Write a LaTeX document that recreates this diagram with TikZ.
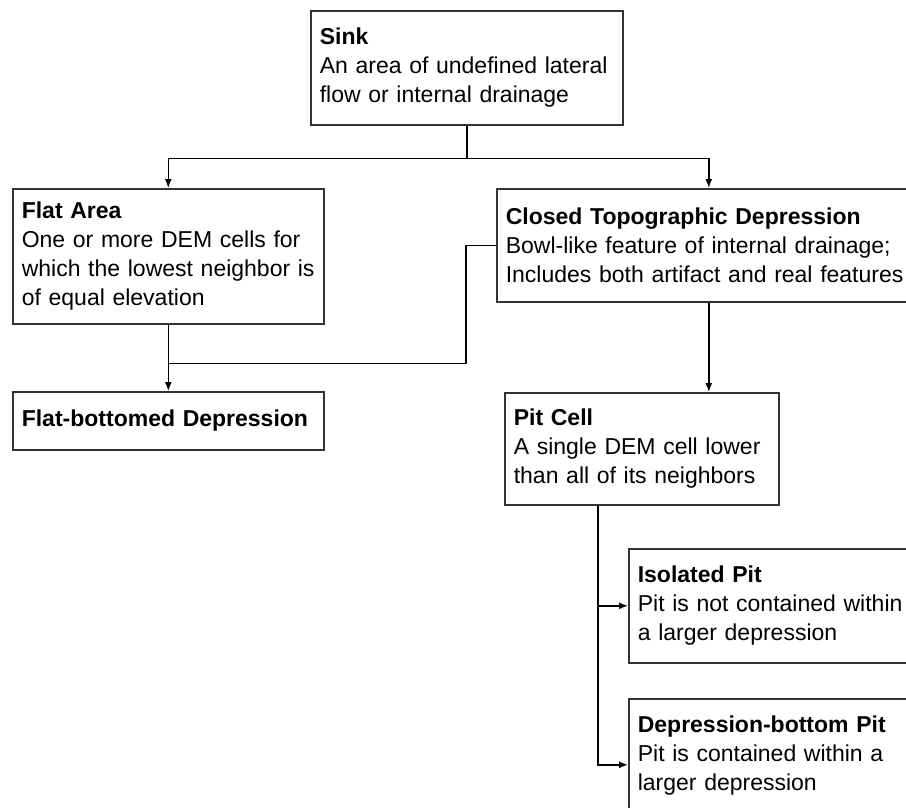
\documentclass[tikz,border=0pt]{standalone}
\usepackage{fontspec}
\setmainfont{Liberation Sans}
\usetikzlibrary{shapes, positioning, arrows.meta, calc}

\tikzset{
    box/.style={draw=black!80, line width=1.6pt, anchor=north west, align=left, inner xsep=9pt, inner ysep=0pt, font=\fontsize{23}{29}\selectfont},
    link/.style={line width=1.4pt, -{Latex[length=9pt, width=7pt]}},
    plain/.style={line width=1.4pt}
}

\begin{document}
\begin{tikzpicture}[x=1pt, y=-1pt]
        \clip (0, 0) rectangle (906, 807);
        \node[box, text width=294pt, minimum height=114pt] (sink) at (310, 10) {\textbf{Sink}\\An area of undefined lateral\\flow or internal drainage};
        \node[box, text width=293pt, minimum height=135pt] (flat) at (12, 188) {\textbf{Flat Area}\\One or more DEM cells for\\which the lowest neighbor is\\of equal elevation};
        \node[box, text width=406pt, minimum height=113pt] (closed) at (496, 188) {\textbf{Closed Topographic Depression}\\Bowl-like feature of internal drainage;\\Includes both artifact and real features};
        \node[box, text width=293pt, minimum height=58pt] (fbd) at (12, 391) {\textbf{Flat-bottomed Depression}};
        \node[box, text width=256pt, minimum height=112pt] (pit) at (504, 392) {\textbf{Pit Cell}\\A single DEM cell lower\\than all of its neighbors};
        \node[box, text width=282pt, minimum height=114pt] (iso) at (628, 548) {\textbf{Isolated Pit}\\Pit is not contained within\\a larger depression};
        \node[box, text width=282pt, minimum height=114pt] (dbp) at (628, 698) {\textbf{Depression-bottom Pit}\\Pit is contained within a\\larger depression};

        \coordinate (split) at ($(sink.south) + (0, 33)$);
        \draw[plain] (sink.south) -- (split);
        \draw[link] (split) -| (flat.north);
        \draw[link] (split) -| (closed.north);
        \coordinate (merge) at ($(flat.south) + (0, 39)$);
        \draw[plain] (flat.south) -- (merge);
        \draw[link] (merge) -- (fbd.north);
        \draw[plain] (closed.west) -- ++(-30, 0) |- (merge);
        \draw[link] (closed.south) -- (closed.south |- pit.north);
        \coordinate (stem) at ($(pit.south) + (-44, 0)$);
        \draw[link] (stem) |- (iso.west);
        \draw[link] (stem) |- ([yshift=-9pt]dbp.west);
    \end{tikzpicture}
\end{document}
